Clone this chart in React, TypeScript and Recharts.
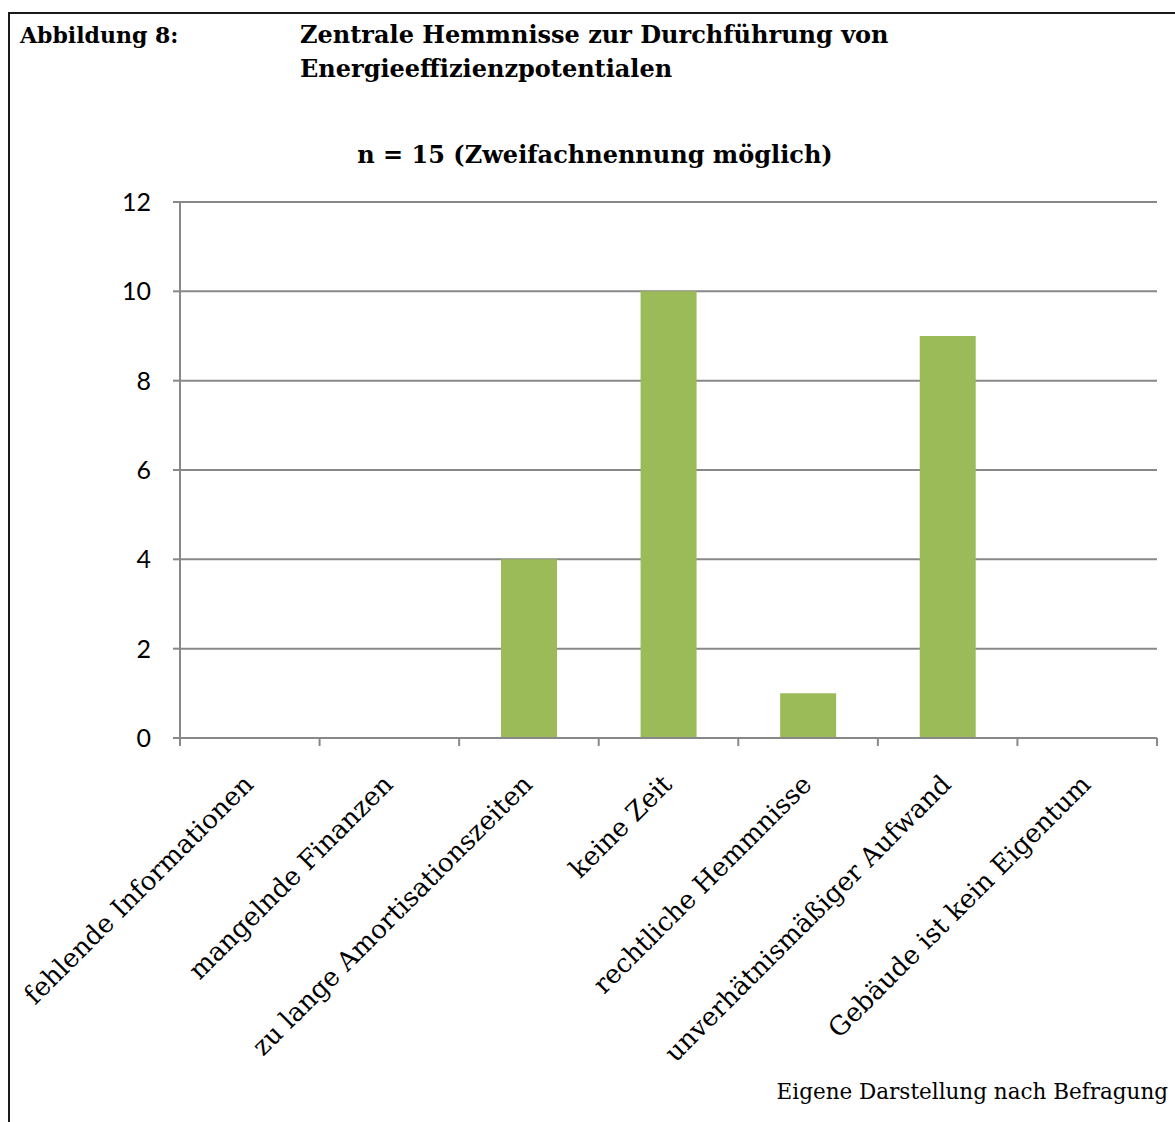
import { BarChart, Bar, XAxis, YAxis, CartesianGrid } from 'recharts';

const categories = [
  'fehlende Informationen',
  'mangelnde Finanzen',
  'zu lange Amortisationszeiten',
  'keine Zeit',
  'rechtliche Hemmnisse',
  'unverhätnismäßiger Aufwand',
  'Gebäude ist kein Eigentum',
];
const counts = [0, 0, 4, 10, 1, 9, 0];
const yTicks = [0, 2, 4, 6, 8, 10, 12];

const data = categories.map((name, i) => ({ name, value: counts[i] }));

const W = 1175;
const H = 1122;
const PLOT_LEFT = 180;
const PLOT_RIGHT = 1157;
const BAND = (PLOT_RIGHT - PLOT_LEFT) / categories.length;
const AXIS_GRAY = '#888888';
const SERIF = '"DejaVu Serif", serif';

function CategoryTick(props: any) {
  const { x, y, payload, index } = props;
  const last = index === categories.length - 1;
  const tx = x + 5;
  const ty = y + 40;
  return (
    <g>
      <line x1={x - BAND / 2} y1={y - 8} x2={x - BAND / 2} y2={y} stroke={AXIS_GRAY} strokeWidth={2} />
      {last && (
        <line x1={x + BAND / 2} y1={y - 8} x2={x + BAND / 2} y2={y} stroke={AXIS_GRAY} strokeWidth={2} />
      )}
      <text
        x={tx}
        y={ty}
        transform={`rotate(-45 ${tx} ${ty})`}
        textAnchor="end"
        fontFamily={SERIF}
        fontSize={26}
        fill="#000"
      >
        {payload.value}
      </text>
    </g>
  );
}

export default function App() {
  return (
    <div style={{ position: 'absolute', left: 0, top: 0, width: W, height: H, background: '#fff', overflow: 'hidden' }}>
      <div style={{ position: 'absolute', left: 9, top: 12, width: W, height: 2, background: '#1a1a1a' }} />
      <div style={{ position: 'absolute', left: 8, top: 12, width: 2, height: H, background: '#1a1a1a' }} />
      <div style={{ position: 'absolute', left: 20, top: 18, fontFamily: SERIF, fontWeight: 'bold', fontSize: 22, lineHeight: '34px' }}>
        Abbildung 8:
      </div>
      <div style={{ position: 'absolute', left: 300, top: 18, fontFamily: SERIF, fontWeight: 'bold', fontSize: 24, lineHeight: '34px' }}>
        Zentrale Hemmnisse zur Durchführung von
        <br />
        Energieeffizienzpotentialen
      </div>
      <div style={{ position: 'absolute', left: 0, width: 1190, top: 140, textAlign: 'center', fontFamily: SERIF, fontWeight: 'bold', fontSize: 24 }}>
        n = 15 (Zweifachnennung möglich)
      </div>
      <div style={{ position: 'absolute', right: 7, top: 1079, fontFamily: SERIF, fontSize: 21.5 }}>
        Eigene Darstellung nach Befragung
      </div>
      <div style={{ position: 'absolute', left: 0, top: 0 }}>
        <BarChart
          width={W}
          height={H}
          data={data}
          barCategoryGap="30%"
          margin={{ top: 202, right: W - PLOT_RIGHT, left: PLOT_LEFT - 70, bottom: H - 738 - 300 }}
        >
          <CartesianGrid vertical={false} stroke={AXIS_GRAY} strokeWidth={2} />
          <XAxis
            dataKey="name"
            height={300}
            interval={0}
            tickLine={false}
            axisLine={{ stroke: AXIS_GRAY, strokeWidth: 2 }}
            tick={<CategoryTick />}
          />
          <YAxis
            width={70}
            domain={[0, 12]}
            ticks={yTicks}
            tickSize={7}
            tickLine={{ stroke: AXIS_GRAY, strokeWidth: 2 }}
            axisLine={{ stroke: AXIS_GRAY, strokeWidth: 2 }}
            tick={{ fill: '#000', fontSize: 25, fontFamily: 'Lato, sans-serif', dx: -20 }}
          />
          <Bar dataKey="value" fill="#9bbb59" isAnimationActive={false} />
        </BarChart>
      </div>
    </div>
  );
}
